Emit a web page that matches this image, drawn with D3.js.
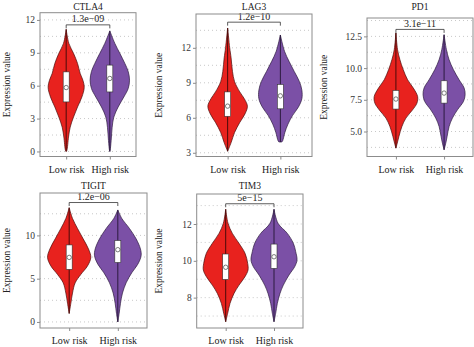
<!DOCTYPE html>
<html><head><meta charset="utf-8">
<script src="https://cdn.jsdelivr.net/npm/d3@7/dist/d3.min.js"></script>
<style>
body{margin:0;background:#fff}
text{font-family:"Liberation Serif","Times New Roman",serif}
</style>
</head><body>
<svg id="chart" width="474" height="347"></svg>
<script>
// ---------------- DATA ----------------
const groups = ["Low risk", "High risk"];
const genes = ["CTLA4", "LAG3", "PD1", "TIGIT", "TIM3"];
const pValues = ["1.3e\u221209", "1.2e\u221210", "3.1e\u221211", "1.2e\u221206", "5e\u221215"];
const bracketLevels = [11.55, 14.2, 13.05, 13.8, 13.1];
const yTickValues = [[0, 3, 6, 9, 12], [3, 6, 9, 12], [5, 7.5, 10, 12.5], [0, 5, 10], [8, 10, 12]];
const yTickLabels = [["0", "3", "6", "9", "12"], ["3", "6", "9", "12"], ["5.0", "7.5", "10.0", "12.5"], ["0", "5", "10"], ["8", "10", "12"]];
const yDomains = [[-0.46, 12.66], [2.68, 14.9], [3.03, 13.95], [-0.7, 14.9], [6.35, 13.63]];

// box stats per gene: [q1, q3, centre point]
const boxLow = [[4.52, 7.26, 5.83], [6.13, 8.22, 7.0], [6.77, 8.24, 7.56], [6.08, 8.9, 7.46], [8.99, 10.37, 9.65]];
const boxHigh = [[5.43, 7.88, 6.66], [6.77, 8.86, 7.88], [7.24, 9.0, 8.03], [6.87, 9.41, 8.35], [9.59, 10.91, 10.22]];

// violin density profiles: [expression value, relative density]
const ctla4Low = [[0.0,0],[0.09,2],[1.31,7],[2.22,12],[3.14,22],[4.06,34],[4.97,47],[5.83,54],[6.5,50],[7.11,42],[8.03,34],[8.95,22],[9.86,8],[11.14,0]];
const ctla4High = [[0.0,0],[0.1,1],[1.0,4],[2.2,7],[3.14,12],[4.06,25],[4.97,42],[5.74,55],[6.5,59],[7.3,55],[8.03,45],[8.95,30],[9.86,15],[11.0,0]];
const lag3Low = [[3.13,0],[3.87,10],[4.74,20],[5.6,35],[6.33,50],[7.0,57],[7.64,48],[8.22,35],[9.1,20],[9.97,14],[11.13,10],[12.0,6],[13.7,0]];
const lag3High = [[3.92,0],[3.95,5],[4.16,8],[4.74,13],[5.46,22],[6.19,35],[6.92,52],[7.64,62],[8.37,62],[9.1,55],[9.97,40],[10.84,25],[11.7,12],[13.1,0]];
const pd1Low = [[3.69,0],[4.08,4],[4.61,9],[5.4,18],[6.06,30],[6.71,50],[7.24,63],[7.76,65],[8.43,52],[9.08,35],[9.87,22],[10.66,12],[11.45,5],[12.77,0]];
const pd1High = [[3.56,0],[4.08,5],[4.61,9],[5.4,15],[6.06,25],[6.71,40],[7.37,58],[7.9,63],[8.43,60],[9.08,45],[9.87,28],[10.66,15],[11.45,7],[12.63,0]];
const tigitLow = [[0.98,0],[2.16,5],[3.34,10],[4.52,18],[5.49,35],[6.47,55],[7.46,65],[8.43,58],[9.6,42],[10.8,25],[11.96,10],[13.2,0]];
const tigitHigh = [[0.0,0],[0.98,4],[2.16,8],[3.34,14],[4.52,25],[5.69,42],[6.67,60],[7.65,70],[8.43,68],[9.6,55],[10.8,35],[11.96,12],[12.94,0]];
const tim3Low = [[6.69,0],[7.15,6],[7.69,13],[8.23,25],[8.68,40],[9.14,58],[9.5,67],[9.86,66],[10.41,58],[10.95,40],[11.49,20],[12.04,7],[12.8,0]];
const tim3High = [[6.69,0],[7.15,5],[7.69,10],[8.23,18],[8.68,28],[9.23,45],[9.68,62],[10.04,69],[10.5,65],[10.95,58],[11.49,40],[12.04,12],[12.8,0]];
const violinLow = [ctla4Low, lag3Low, pd1Low, tigitLow, tim3Low];
const violinHigh = [ctla4High, lag3High, pd1High, tigitHigh, tim3High];

// ---------------- LAYOUT / STYLE ----------------
const layout = [
  {x0: 40, x1: 136, y0: 12.7, y1: 156.5, ylabX: 7, titleY: 9.5, half: 19.7},
  {x0: 196, x1: 312, y0: 14, y1: 156.5, ylabX: 158.5, titleY: 9.5, half: 21.5},
  {x0: 367, x1: 473, y0: 18, y1: 156.5, ylabX: 323.5, titleY: 10, half: 21.7},
  {x0: 40, x1: 147, y0: 193, y1: 328, ylabX: 7, titleY: 188.5, half: 23.3},
  {x0: 196.7, x1: 303, y0: 194, y1: 328, ylabX: 159, titleY: 188.5, half: 23}
];
const fills = ["#e8221e", "#7b50a6"];
const outlines = ["#4a0b0a", "#2c1a3e"];

const svg = d3.select("#chart");

genes.forEach((gene, i) => {
  const L = layout[i];
  const g = svg.append("g");
  const y = d3.scaleLinear().domain(yDomains[i]).range([L.y1, L.y0]);
  const x = d3.scalePoint().domain(groups).range([L.x0, L.x1]).padding(0.6);
  const profiles = [violinLow[i], violinHigh[i]];
  const maxD = d3.max(profiles.flat(), d => d[1]);
  const w = d3.scaleLinear().domain([0, maxD]).range([0, L.half]);

  // grid lines (major + minor)
  const ticks = yTickValues[i];
  const step = (ticks[1] - ticks[0]) / 2;
  const grid = [];
  for (let v = ticks[0] - step; v <= yDomains[i][1]; v += step) {
    if (v >= yDomains[i][0]) grid.push(v);
  }
  g.selectAll(".grid").data(grid).join("line")
    .attr("x1", L.x0).attr("x2", L.x1)
    .attr("y1", d => y(d)).attr("y2", d => y(d))
    .attr("stroke", "#c8c8c8").attr("stroke-width", 1)
    .attr("stroke-dasharray", "1,3");

  // violins
  const area = d3.area()
    .curve(d3.curveCatmullRom)
    .y(d => y(d[0]));
  groups.forEach((grp, k) => {
    const cx = x(grp);
    const prof = profiles[k];
    g.append("path")
      .datum(prof)
      .attr("d", area.x0(d => cx - w(d[1])).x1(d => cx + w(d[1])))
      .attr("fill", fills[k])
      .attr("stroke", outlines[k]).attr("stroke-width", 0.7);
    const ext = d3.extent(prof, d => d[0]);
    g.append("line")
      .attr("x1", cx).attr("x2", cx)
      .attr("y1", y(ext[0])).attr("y2", y(ext[1]))
      .attr("stroke", outlines[k]).attr("stroke-width", 1);
    const b = (k === 0 ? boxLow : boxHigh)[i];
    g.append("rect")
      .attr("x", cx - 3).attr("width", 6)
      .attr("y", y(b[1])).attr("height", y(b[0]) - y(b[1]))
      .attr("fill", "#fff").attr("stroke", "#333").attr("stroke-width", 0.6);
    g.append("circle")
      .attr("cx", cx).attr("cy", y(b[2])).attr("r", 2.2)
      .attr("fill", "#fff").attr("stroke", "#444").attr("stroke-width", 0.7);
  });

  // bracket
  const by = y(bracketLevels[i]);
  const xa = x(groups[0]), xb = x(groups[1]);
  g.append("path")
    .attr("d", `M${xa},${by + 3.5}V${by}H${xb}V${by + 3.5}`)
    .attr("fill", "none").attr("stroke", "#333").attr("stroke-width", 0.8);
  g.append("text")
    .attr("x", (xa + xb) / 2).attr("y", by - 2.5)
    .attr("text-anchor", "middle").attr("font-size", 10).attr("fill", "#222")
    .text(pValues[i]);

  // panel border
  g.append("rect")
    .attr("x", L.x0).attr("y", L.y0)
    .attr("width", L.x1 - L.x0).attr("height", L.y1 - L.y0)
    .attr("fill", "none").attr("stroke", "#8c8c8c").attr("stroke-width", 1);

  // y axis
  const yAxis = d3.axisLeft(y).tickValues(ticks)
    .tickFormat((d, j) => yTickLabels[i][j]).tickSize(3).tickPadding(2);
  const ya = g.append("g").attr("transform", `translate(${L.x0},0)`).call(yAxis);
  ya.select(".domain").remove();
  ya.selectAll("line").attr("stroke", "#8c8c8c");
  ya.selectAll("text").attr("font-size", 9.5).attr("fill", "#333")
    .attr("font-family", "Liberation Serif, serif");

  // x axis
  const xAxis = d3.axisBottom(x).tickSize(3).tickPadding(6);
  const xa2 = g.append("g").attr("transform", `translate(0,${L.y1})`).call(xAxis);
  xa2.select(".domain").remove();
  xa2.selectAll("line").attr("stroke", "#8c8c8c");
  xa2.selectAll("text").attr("font-size", 10).attr("fill", "#222")
    .attr("font-family", "Liberation Serif, serif");

  // title
  g.append("text")
    .attr("x", (L.x0 + L.x1) / 2).attr("y", L.titleY)
    .attr("text-anchor", "middle").attr("font-size", 9.5).attr("fill", "#222")
    .text(gene);

  // y label
  g.append("text")
    .attr("transform", `translate(${L.ylabX},${(L.y0 + L.y1) / 2}) rotate(-90)`)
    .attr("text-anchor", "middle").attr("dominant-baseline", "central")
    .attr("font-size", 9.5).attr("fill", "#222")
    .text("Expression value");
});
</script>
</body></html>
